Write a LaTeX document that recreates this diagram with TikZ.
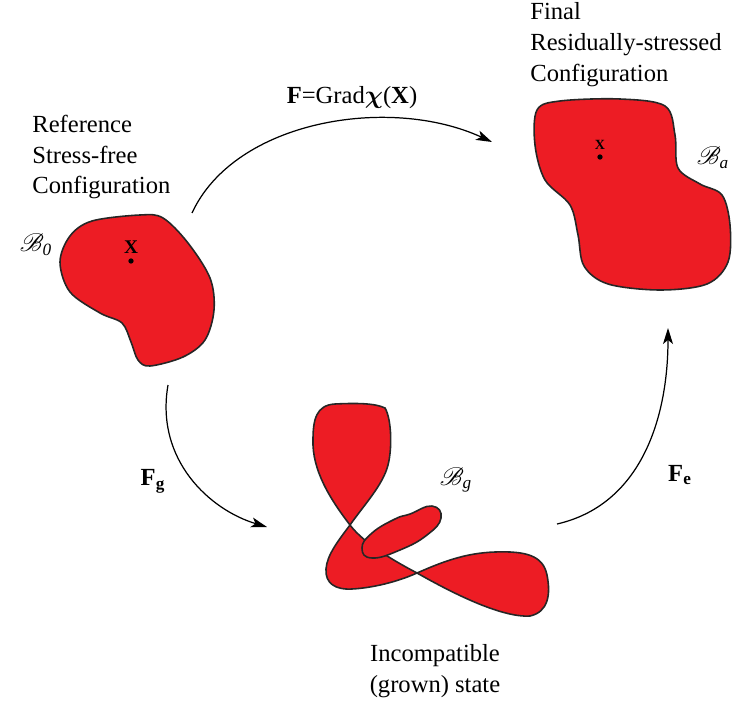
\documentclass[tikz,border=0pt]{standalone}
\usepackage{amsmath}
\usepackage{bm}
\usepackage{mathrsfs}
\usepackage{fontspec}
\setmainfont{Liberation Serif}
\usetikzlibrary{arrows.meta}
\definecolor{bodyred}{RGB}{237,28,36}
\tikzset{
 body/.style={fill=bodyred, draw=black!85, line width=0.9pt},
 arr/.style={line width=0.7pt, -{Stealth[length=3.2mm,width=2mm,inset=0.8mm]}},
 txt/.style={font=\fontsize{14}{17.6}\selectfont, align=left, inner sep=0pt},
 lbl/.style={font=\fontsize{14}{17}\selectfont, inner sep=0pt},
 pt/.style={label={[font=\bfseries\fontsize{#1}{#1}\selectfont, label distance=1pt]above:X}},
}

\begin{document}
\begin{tikzpicture}[x=0.02cm,y=-0.02cm]
 \useasboundingbox (0,0) rectangle (733,702); %全体
 \node[txt, anchor=west] (reftext) at (32,157) {Reference\\Stress-free\\Configuration}; %基準配置
 \node[txt, anchor=west] (finaltext) at (530,45) {Final\\Residually-stressed\\Configuration}; %最終配置
 \node[txt, align=center] (growntext) at (435,671) {Incompatible\\(grown) state}; %成長状態

 \draw[body] plot[smooth cycle, tension=0.55] coordinates {(92,221) (140,215) (163,218) (188,243) (210,278) (214,310) (205,340) (183,357) (150,366) (138,360) (131,342) (122,323) (100,313) (70,292) (60,262) (70,236)}; %B0
 \draw[body] plot[smooth cycle, tension=0.55] coordinates {(537,110) (560,101) (620,99) (665,106) (675,135) (678,168) (700,184) (722,195) (730,225) (728,262) (707,284) (660,290) (608,284) (584,266) (578,235) (570,205) (545,180) (535,145)}; %Ba

 \coordinate (P1) at (350,525); %くびれ1
 \coordinate (P2) at (417,573); %くびれ2
 \draw[body] (P1) .. controls (330,499) and (312,470) .. (313,440)
  .. controls (313,420) and (316,405) .. (335,404) .. controls (355,403) and (375,403) .. (385,408)
  .. controls (392,420) and (392,450) .. (388,465) .. controls (383,485) and (364,505) .. (P1) -- cycle; %上の房
 \draw[body] (P2) .. controls (442,562) and (465,553) .. (495,552) .. controls (525,551) and (543,555) .. (547,575)
  .. controls (551,595) and (548,612) .. (530,616) .. controls (500,618) and (447,590) .. (P2) -- cycle; %右の房
 \draw[body] (P1) .. controls (338,541) and (327,555) .. (326,569) .. controls (325,583) and (335,590) .. (352,589)
  .. controls (372,588) and (397,582) .. (P2) .. controls (400,564) and (365,545) .. (P1) -- cycle; %左下の房
 \draw[body] plot[smooth cycle, tension=0.8] coordinates {(362,548) (372,558) (400,550) (427,535) (441,518) (432,506) (410,514) (395,519) (372,533)}; %突起

 \coordinate[pt=11] (X0) at (131,261); %点X
 \coordinate[pt=8] (Xa) at (600,157); %点x
 \fill (X0) circle[radius=1.5pt];
 \fill (Xa) circle[radius=1.5pt];
 \node[lbl] (B0) at (36,245) {$\mathscr{B}_{\mathit{0}}$};
 \node[lbl] (Ba) at (713,158) {$\mathscr{B}_{\mathit{a}}$};
 \node[lbl] (Bg) at (456,480) {$\mathscr{B}_{\mathit{g}}$};

 \coordinate (Fs) at (192,213); %F始点
 \coordinate (Fe) at (492,142); %F終点
 \coordinate (Gs) at (168,385); %Fg始点
 \coordinate (Ge) at (267,527); %Fg終点
 \coordinate (Es) at (557,524); %Fe始点
 \coordinate (Ee) at (668,328); %Fe終点
 \draw[arr] (Fs) .. controls (235,120) and (390,95) .. (Fe);
 \draw[arr] (Gs) .. controls (155,460) and (210,510) .. (Ge);
 \draw[arr] (Es) .. controls (640,505) and (668,420) .. (Ee);
 \node[lbl] (Flbl) at (352,98) {\textbf{F}=Grad$\bm{\chi}$(\textbf{X})};
 \node[lbl] (Glbl) at (153,481) {$\mathbf{F}_{\mathbf{g}}$};
 \node[lbl] (Elbl) at (680,475) {$\mathbf{F}_{\mathbf{e}}$};
\end{tikzpicture}
\end{document}
